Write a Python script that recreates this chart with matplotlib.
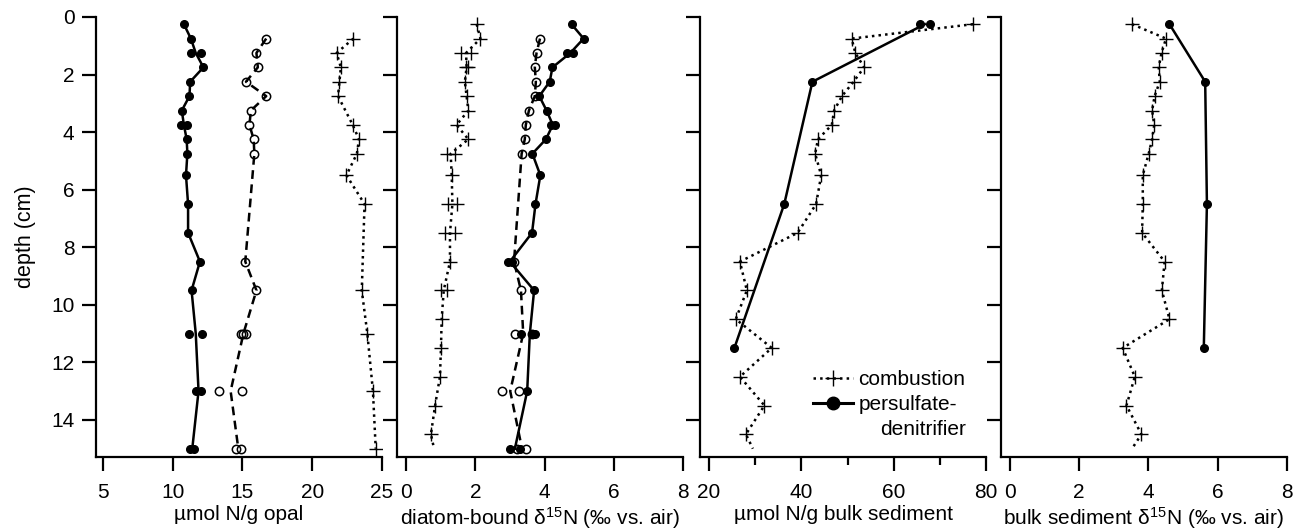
import numpy as np
import matplotlib
matplotlib.use("Agg")
import matplotlib.pyplot as plt
from matplotlib.lines import Line2D

plt.rcParams['font.family'] = ['Liberation Sans', 'DejaVu Sans']
plt.rcParams['mathtext.default'] = 'regular'
plt.rcParams['axes.linewidth'] = 1.6

# ---- data (depth in cm) ----
# panel 1: umol N / g opal
p1_pers_d = [0.25, 0.75, 1.25, 1.25, 1.75, 2.25, 2.75, 3.25, 3.75, 3.75, 4.25, 4.75, 5.5,
             6.5, 7.5, 8.5, 9.5, 11, 11, 13, 13, 15, 15]
p1_pers_v = [10.8, 11.3, 11.3, 12.0, 12.2, 11.25, 11.2, 10.65, 10.6, 11.0, 11.0, 11.05, 10.95,
             11.1, 11.1, 11.95, 11.35, 11.2, 12.1, 11.7, 12.0, 11.25, 11.55]
p1_open_d = [0.75, 1.25, 1.75, 2.25, 2.75, 3.25, 3.75, 4.25, 4.75, 8.5, 9.5, 11, 11, 11,
             13, 13, 15, 15]
p1_open_v = [16.7, 16.0, 16.1, 15.25, 16.7, 15.6, 15.5, 15.8, 15.85, 15.2, 16.0, 14.9, 15.05, 15.25,
             13.35, 14.95, 14.5, 14.9]
p1_comb_d = [0.75, 1.25, 1.75, 2.25, 2.75, 3.75, 4.25, 4.75, 5.5, 6.5, 9.5, 11, 13, 15]
p1_comb_v = [22.95, 21.75, 22.05, 21.95, 21.85, 22.9, 23.35, 23.2, 22.45, 23.75, 23.55, 23.95,
             24.35, 24.55]

# panel 2: diatom-bound d15N
p2_pers_d = [0.25, 0.75, 1.25, 1.25, 1.75, 2.25, 2.75, 3.25, 3.75, 3.75, 4.25, 4.75, 5.5,
             6.5, 7.5, 8.5, 8.5, 9.5, 11, 11, 11, 13, 15, 15]
p2_pers_v = [4.78, 5.13, 4.66, 4.83, 4.23, 4.15, 3.85, 4.06, 4.18, 4.30, 4.04, 3.65, 3.88,
             3.74, 3.64, 2.95, 3.05, 3.70, 3.32, 3.67, 3.74, 3.50, 3.00, 3.29]
p2_open_d = [0.75, 1.25, 1.75, 2.25, 2.75, 3.25, 3.75, 4.25, 4.75, 8.5, 9.5, 11, 11,
             13, 13, 15, 15]
p2_open_v = [3.87, 3.77, 3.72, 3.75, 3.72, 3.55, 3.46, 3.43, 3.34, 3.12, 3.32, 3.14, 3.63,
             2.76, 3.26, 3.22, 3.48]
p2_comb_d = [0.25, 0.75, 1.25, 1.25, 1.75, 1.75, 2.25, 2.75, 3.25, 3.75, 4.25, 4.75, 4.75,
             5.5, 6.5, 6.5, 7.5, 7.5, 8.5, 9.5, 9.5, 10.5, 11.5, 12.5, 13.5, 14.5]
p2_comb_v = [2.04, 2.15, 1.58, 1.89, 1.72, 1.78, 1.70, 1.75, 1.80, 1.46, 1.80, 1.17, 1.41,
             1.32, 1.22, 1.46, 1.13, 1.41, 1.27, 1.01, 1.17, 1.03, 1.01, 0.98, 0.84, 0.72]

# panel 3: umol N / g bulk sediment
p3_pers_d = [0.25, 0.25, 2.25, 6.5, 11.5]
p3_pers_v = [65.6, 67.9, 42.4, 36.3, 25.5]
bulk_d = [0.25, 0.75, 1.25, 1.75, 2.25, 2.75, 3.25, 3.75, 4.25, 4.75, 5.5, 6.5, 7.5,
          8.5, 9.5, 10.5, 11.5, 12.5, 13.5, 14.5]
p3_comb_v = [77.2, 50.9, 51.7, 53.6, 51.3, 48.8, 47.1, 46.6, 43.6, 43.0, 44.3, 43.2, 39.2,
             26.7, 28.2, 25.8, 33.6, 26.7, 32.0, 28.0]

# panel 4: bulk sediment d15N
p4_pers_d = [0.25, 2.25, 6.5, 11.5]
p4_pers_v = [4.61, 5.64, 5.69, 5.60]
p4_comb_v = [3.53, 4.51, 4.38, 4.30, 4.33, 4.18, 4.11, 4.17, 4.11, 4.01, 3.84, 3.84, 3.82,
             4.47, 4.39, 4.61, 3.26, 3.61, 3.37, 3.80]

# combustion profiles continue to the core bottom without a marker
tail_d = 15.0
p2_tail_v = 0.81
p3_tail_v = 29.5
p4_tail_v = 3.53

xlabels = ['µmol N/g opal', 'diatom-bound δ$^{15}$N (‰ vs. air)',
           'µmol N/g bulk sediment', 'bulk sediment δ$^{15}$N (‰ vs. air)']
xlims = [(4.5, 25), (-0.26, 8), (18.05, 80), (-0.25, 8)]
xticks = [[5, 10, 15, 20, 25], [0, 2, 4, 6, 8], [20, 40, 60, 80], [0, 2, 4, 6, 8]]
lefts_px = [96, 397, 700, 1001]


def mean_profile(d, v):
    d = np.asarray(d, dtype=float)
    v = np.asarray(v, dtype=float)
    u = np.unique(d)
    return u, np.array([v[d == k].mean() for k in u])


W, H = 1293, 531
fig = plt.figure(figsize=(W / 100, H / 100), dpi=100)
axes = []
for i in range(4):
    ax = fig.add_axes([lefts_px[i] / W, 1 - 457.3 / H, 286 / W, 440.3 / H])
    axes.append(ax)

dot = dict(ls=':', lw=1.8, color='black')
solid = dict(ls='-', lw=1.8, color='black')
dash = dict(ls=(0, (3.5, 2.2)), lw=1.8, color='black')
pers_m = dict(ls='none', marker='o', ms=5.5, color='black')
open_m = dict(ls='none', marker='o', ms=6, mfc='none', mec='black', mew=1.1)
comb_m = dict(ls='none', marker='+', ms=9.5, mew=1.0, color='black')

# panel 1
ax = axes[0]
d, v = mean_profile(p1_comb_d, p1_comb_v)
ax.plot(v, d, **dot)
ax.plot(p1_comb_v, p1_comb_d, **comb_m)
d, v = mean_profile(p1_open_d, p1_open_v)
ax.plot(v, d, **dash)
ax.plot(p1_open_v, p1_open_d, **open_m)
d, v = mean_profile(p1_pers_d, p1_pers_v)
ax.plot(v, d, **solid)
ax.plot(p1_pers_v, p1_pers_d, **pers_m)

# panel 2
ax = axes[1]
d, v = mean_profile(p2_comb_d, p2_comb_v)
ax.plot(np.append(v, p2_tail_v), np.append(d, tail_d), **dot)
ax.plot(p2_comb_v, p2_comb_d, **comb_m)
d, v = mean_profile(p2_open_d, p2_open_v)
ax.plot(v, d, **dash)
ax.plot(p2_open_v, p2_open_d, **open_m)
d, v = mean_profile(p2_pers_d, p2_pers_v)
ax.plot(v, d, **solid)
ax.plot(p2_pers_v, p2_pers_d, **pers_m)

# panel 3
ax = axes[2]
ax.plot(p3_comb_v + [p3_tail_v], bulk_d + [tail_d], **dot)
ax.plot(p3_comb_v, bulk_d, **comb_m)
d, v = mean_profile(p3_pers_d, p3_pers_v)
ax.plot(v, d, **solid)
ax.plot(p3_pers_v, p3_pers_d, **pers_m)

# panel 4
ax = axes[3]
ax.plot(p4_comb_v + [p4_tail_v], bulk_d + [tail_d], **dot)
ax.plot(p4_comb_v, bulk_d, **comb_m)
ax.plot(p4_pers_v, p4_pers_d, **solid)
ax.plot(p4_pers_v, p4_pers_d, **pers_m)

for i, ax in enumerate(axes):
    ax.set_ylim(15.3, 0)
    ax.set_xlim(*xlims[i])
    ax.set_xticks(xticks[i])
    ax.set_yticks(range(0, 15, 2))
    ax.spines['top'].set_visible(False)
    ax.spines['right'].set_visible(False)
    ax.tick_params(direction='out', length=10.4, width=1.6, labelsize=15)
    ax.tick_params(axis='x', pad=8)
    ax.tick_params(axis='y', pad=5)
    ax.set_xlabel(xlabels[i], fontsize=15, labelpad=2.5)
    if i > 0:
        ax.tick_params(axis='y', labelleft=False)
axes[2].set_xticks([30, 50, 70], minor=True)
axes[2].tick_params(axis='x', which='minor', direction='out', length=5.5, width=1.6)
axes[0].set_ylabel('depth (cm)', fontsize=15.5, labelpad=11)

# legend
h_comb = Line2D([], [], ls=':', lw=1.8, color='black', marker='+', ms=12, mew=1.0)
h_pers = Line2D([], [], ls='-', lw=2.2, color='black', marker='o', ms=9)
h_none = Line2D([], [], ls='none')
leg = axes[2].legend([h_comb, h_pers, h_none], ['combustion', 'persulfate-', 'denitrifier'],
                     loc='lower right', bbox_to_anchor=(0.993, -0.001), frameon=False,
                     fontsize=15, handlelength=1.9, handletextpad=0.25, labelspacing=0.28,
                     numpoints=1)
leg.get_texts()[2].set_x(22)

fig.savefig('out.png', dpi=100)
